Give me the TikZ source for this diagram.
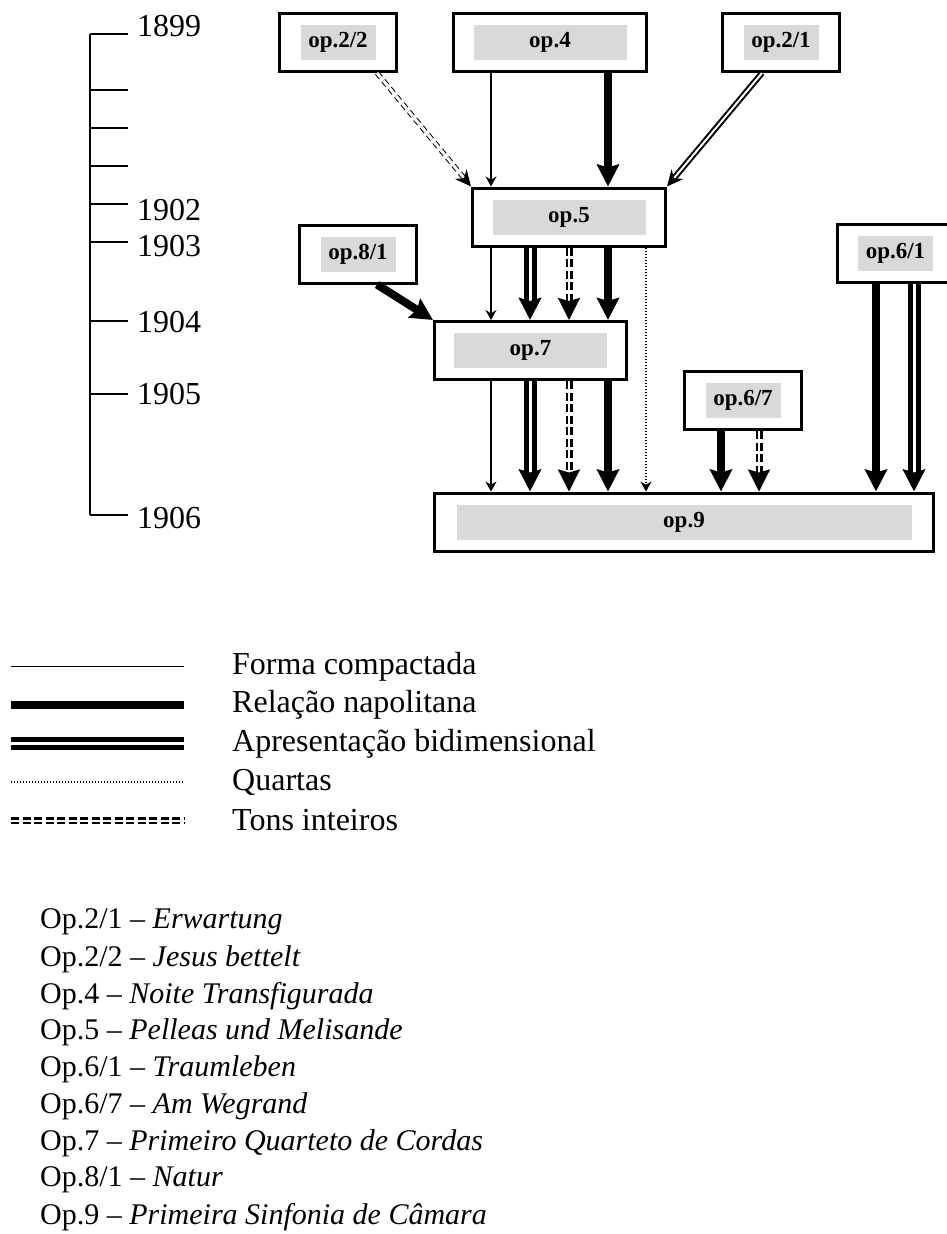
\documentclass[tikz,border=0pt]{standalone}
\usepackage{fontspec}
\setmainfont{Liberation Serif}
\usetikzlibrary{arrows.meta,calc}
\definecolor{lblgray}{RGB}{217,217,217}

\begin{document}
\begin{tikzpicture}[x=1pt,y=-1pt,
 opbox/.style={draw,line width=3pt,minimum width=117pt,minimum height=58pt,inner sep=0pt},
 oplbl/.style={fill=lblgray,minimum width=75pt,minimum height=35pt,inner sep=0pt,font=\fontsize{23}{27}\selectfont\bfseries},
 compact/.style={line width=1.3pt},
 napol/.style={line width=8pt},
 bidim/.style={double,double distance=3pt,line width=5pt},
 quartas/.style={line width=1.3pt,dash pattern=on 1.3pt off 1.7pt},
 tons/.style={double,double distance=2pt,line width=2.5pt,dash pattern=on 8pt off 3.5pt},
 tipS/.style={-{Stealth[length=10pt,width=11pt]}},
 tipM/.style={-{Stealth[length=16pt,width=15pt]}},
 tipL/.style={-{Stealth[length=22pt,width=22pt,inset=3pt]}},
 txt/.style={anchor=west,inner sep=0pt,font=\fontsize{32}{38}\selectfont},
 lst/.style={txt,font=\fontsize{30}{36}\selectfont}]
\useasboundingbox (0,0) rectangle (947,1234);
\clip (0,0) rectangle (947,1234);
\draw[compact] (90,34) -- (90,515);
\foreach \y in {34,90,128,166,204,242,321,394,515} \draw[compact] (90,\y) -- (128,\y);
\foreach \y/\yr in {26/1899,210/1902,246/1903,322/1904,394/1905,518/1906} \node[txt] (yr\yr) at (137,\y) {\yr};
\node[opbox] (op22) at (338,42.5) {};\node[oplbl] (op22l) at (op22) {op.2/2};
\node[opbox,minimum width=193pt] (op4) at (550,42.5) {};\node[oplbl,minimum width=153pt] (op4l) at (op4) {op.4};
\node[opbox] (op21) at (781,42.5) {};\node[oplbl] (op21l) at (op21) {op.2/1};
\node[opbox,minimum width=193pt] (op5) at (569,217) {};\node[oplbl,minimum width=153pt] (op5l) at (op5) {op.5};
\node[opbox] (op81) at (358,254) {};\node[oplbl] (op81l) at (op81) {op.8/1};
\node[opbox,minimum width=192pt] (op7) at (530.5,350.5) {};\node[oplbl,minimum width=153pt] (op7l) at (op7) {op.7};
\node[opbox] (op67) at (743,400.5) {};\node[oplbl] (op67l) at (op67) {op.6/7};
\node[opbox] (op61) at (895.5,253) {};\node[oplbl] (op61l) at (op61) {op.6/1};
\node[opbox,minimum width=499pt] (op9) at (684,522) {};\node[oplbl,minimum width=455pt] (op9l) at (op9) {op.9};
\coordinate (ca) at (491,0);\coordinate (cb) at (530,0);\coordinate (cc) at (569,0);\coordinate (cd) at (608,0);
\coordinate (ce) at (646,0);\coordinate (cf) at (721,0);\coordinate (cg) at (759,0);\coordinate (ch) at (876,0);\coordinate (ci) at (914,0);
\draw[tons,line width=1pt,double distance=3pt,dash pattern=on 6pt off 4pt,tipM] ([xshift=39pt]op22.south) -- (op5.north west);
\draw[compact,tipS] (op4.south -| ca) -- (op5.north -| ca);\draw[napol,tipL] (op4.south -| cd) -- (op5.north -| cd);
\draw[bidim,line width=2pt,double distance=2pt,tipM] ([xshift=-19pt]op21.south) -- (op5.north east);
\draw[compact,tipS] (op5.south -| ca) -- (op7.north -| ca);\draw[bidim,tipL] (op5.south -| cb) -- (op7.north -| cb);
\draw[tons,tipL] (op5.south -| cc) -- (op7.north -| cc);\draw[napol,tipL] (op5.south -| cd) -- (op7.north -| cd);
\draw[quartas,tipS] (op5.south -| ce) -- (op9.north -| ce);
\draw[napol,tipL] ([xshift=19pt]op81.south) -- (op7.north west);
\draw[compact,tipS] (op7.south -| ca) -- (op9.north -| ca);\draw[bidim,tipL] (op7.south -| cb) -- (op9.north -| cb);
\draw[tons,tipL] (op7.south -| cc) -- (op9.north -| cc);\draw[napol,tipL] (op7.south -| cd) -- (op9.north -| cd);
\draw[napol,tipL] (op67.south -| cf) -- (op9.north -| cf);\draw[tons,tipL] (op67.south -| cg) -- (op9.north -| cg);
\draw[napol,tipL] (op61.south -| ch) -- (op9.north -| ch);\draw[bidim,tipL] (op61.south -| ci) -- (op9.north -| ci);
\foreach \sty/\lbl [count=\i] in {compact/Forma compactada,napol/Relação napolitana,bidim/Apresentação bidimensional,quartas/Quartas,tons/Tons inteiros}{
 \node[txt] (leg\i) at (232,{628+38.5*\i}) {\lbl};
 \draw[\sty] (11,{628+38.5*\i}) -- (184,{628+38.5*\i});}
\foreach \op/\ttl [count=\i] in {{2/1}/Erwartung,{2/2}/Jesus bettelt,4/Noite Transfigurada,5/Pelleas und Melisande,{6/1}/Traumleben,{6/7}/Am Wegrand,7/Primeiro Quarteto de Cordas,{8/1}/Natur,9/Primeira Sinfonia de Câmara}
 \node[lst] (ls\i) at (40,{885+36.9*\i}) {Op.\op{} -- \textit{\ttl}};
\end{tikzpicture}
\end{document}
